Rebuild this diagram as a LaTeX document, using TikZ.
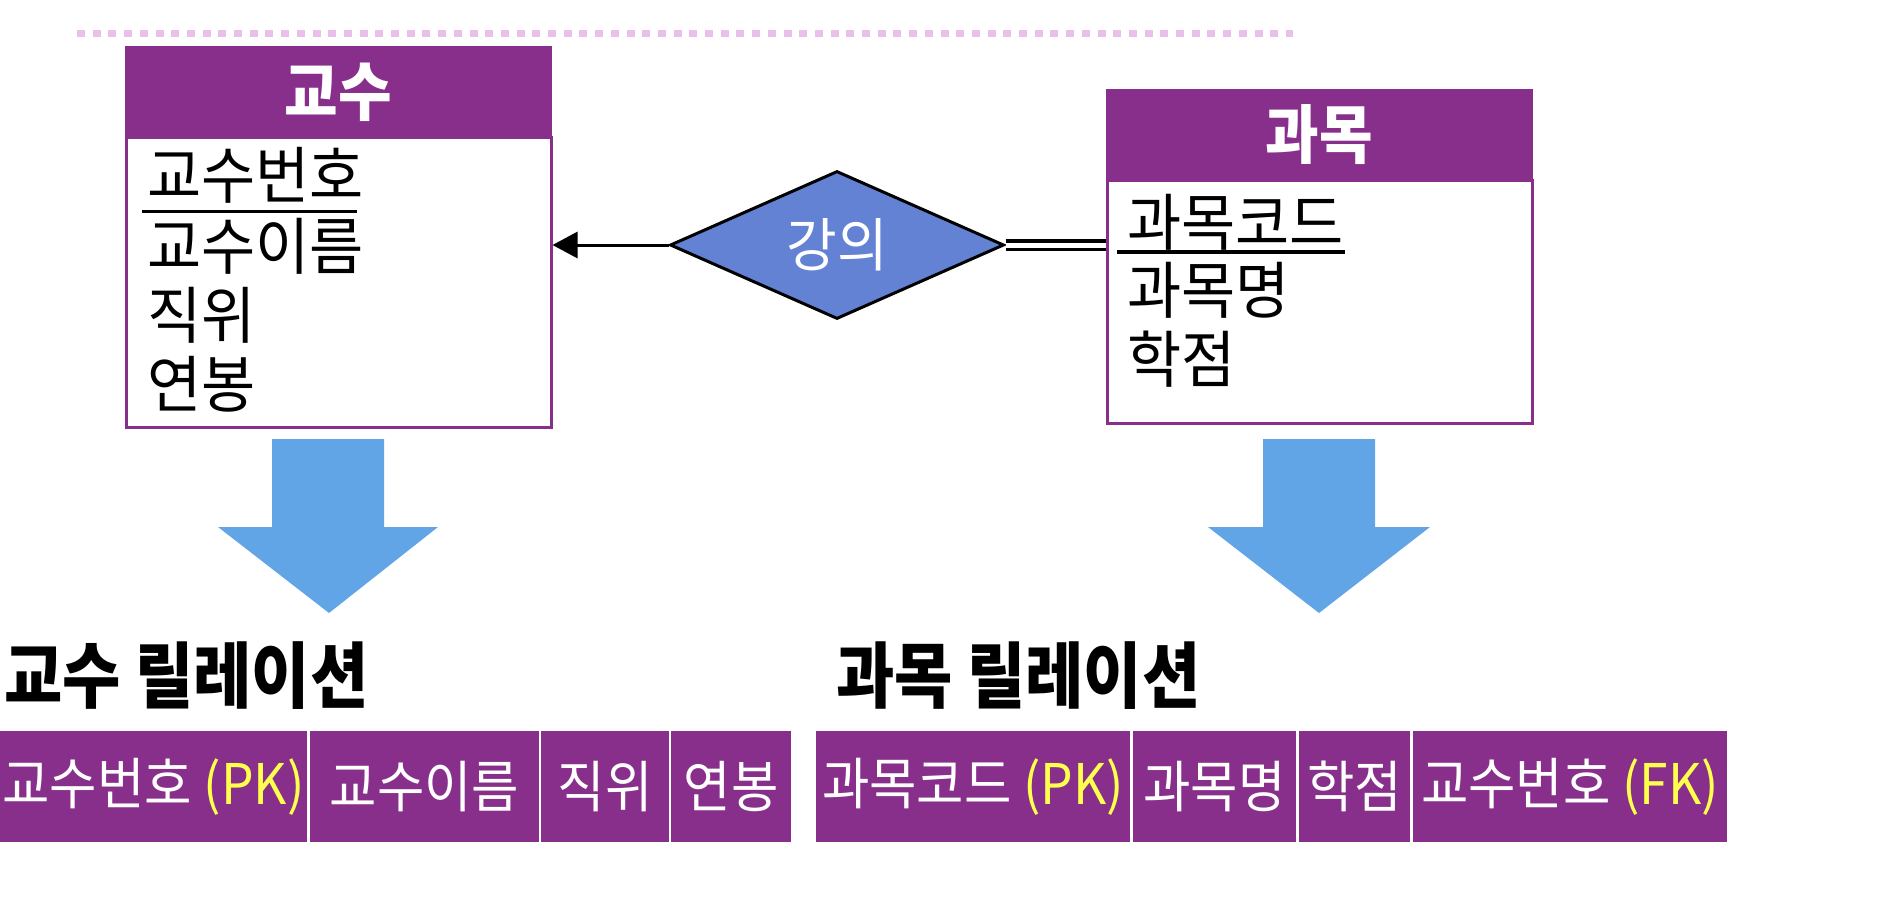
\documentclass[tikz,border=0pt]{standalone}
\usepackage{fontspec}
\setmainfont{Noto Sans CJK KR}
\newfontfamily\fattr[FakeStretch=0.95]{Noto Sans CJK KR}
\newfontfamily\ftitle[FakeStretch=0.88]{Noto Sans CJK KR}
\newfontfamily\fcell[FakeStretch=0.92]{Noto Sans CJK KR}
\newfontfamily\fhead[FakeStretch=0.91]{Noto Sans CJK KR}
\usetikzlibrary{shapes.geometric,arrows.meta,calc}
\definecolor{pur}{RGB}{135,47,139}
\definecolor{dia}{RGB}{99,130,212}
\definecolor{barrow}{RGB}{98,165,230}
\definecolor{dotc}{RGB}{234,192,234}
\definecolor{pkyel}{RGB}{255,255,77}
\begin{document}
\begin{tikzpicture}[x=1pt,y=-1pt,
  hdr/.style={fill=pur,draw=pur,line width=2pt,minimum width=425pt,minimum height=90pt,inner sep=0pt,anchor=north west,text=white,font=\fhead\fontsize{64}{68}\selectfont\bfseries},
  body/.style={fill=white,draw=pur,line width=2.5pt,minimum width=425pt,inner sep=0pt,anchor=north west},
  attr/.style={inner sep=0pt,anchor=west,text=black,font=\fattr\fontsize{62}{66}\selectfont},
  reltitle/.style={inner sep=0pt,anchor=west,text=black,font=\ftitle\fontsize{72}{76}\selectfont\bfseries},
  cell/.style={fill=pur,inner sep=0pt,minimum height=111pt,text=white,font=\fcell\fontsize{56}{60}\selectfont},
  bigarrow/.style={fill=barrow}]
\useasboundingbox (0,0) rectangle (1900,902);
% dotted top line
\coordinate (d0) at (77,33);
\coordinate (d1) at (1293,33);
\draw[dotc,line width=7pt,dash pattern=on 8pt off 7.7pt] (d0) -- (d1);
% left entity
\node[hdr] (kh) at (125,46) {교수};
\node[body,minimum height=290pt] (kb) at (125,136) {};
\node[attr] (k1) at (147,175.5) {교수번호};
\node[attr] (k2) at (147,246) {교수이름};
\node[attr] (k3) at (147,315) {직위};
\node[attr] (k4) at (147,384.5) {연봉};
\draw[line width=3pt] ($(k1.west)+(-5,35.5)$) -- ($(k1.east)+(-7,35.5)$);
% right entity
\node[hdr] (gh) at (1106,89) {과목};
\node[body,minimum height=243pt] (gb) at (1106,179) {};
\node[attr] (g1) at (1127,222) {과목코드};
\node[attr] (g2) at (1127,290) {과목명};
\node[attr] (g3) at (1127,359.5) {학점};
\draw[line width=4.5pt] ($(g1.west)+(-10,30)$) -- ($(g1.east)+(1,30)$);
% relationship
\node[diamond,aspect=2.25,fill=dia,draw=black,line width=3pt,minimum width=334pt,minimum height=148pt,inner sep=0pt,text=white,font=\fattr\fontsize{58}{62}\selectfont] (rel) at (837,245) {\raisebox{3pt}{강의}};
\draw[line width=3pt,-{Triangle[length=25pt,width=26pt]}] (rel.west) -- (rel.west -| kb.east);
\draw[line width=3.5pt,double,double distance=5pt] (rel.east) -- (rel.east -| gb.west);
% big arrows
\fill[bigarrow] (272,439) -- (384,439) -- (384,527) -- (438,527) -- (329,613) -- (218,527) -- (272,527) -- cycle;
\fill[bigarrow] (1263,439) -- (1375,439) -- (1375,527) -- (1430,527) -- (1319,613) -- (1208,527) -- (1263,527) -- cycle;
% relation titles
\node[reltitle] (t1) at (4,676) {교수 릴레이션};
\node[reltitle] (t2) at (836,676) {과목 릴레이션};
% relation rows
\node[cell,minimum width=307pt] (c1) at (153.5,786.5) {교수번호 \textcolor{pkyel}{(PK)}};
\node[cell,minimum width=229pt] (c2) at (424.5,786.5) {교수이름};
\node[cell,minimum width=128pt] (c3) at (605,786.5) {직위};
\node[cell,minimum width=120pt] (c4) at (731,786.5) {연봉};
\node[cell,minimum width=314pt] (e1) at (973,786.5) {과목코드 \textcolor{pkyel}{(PK)}};
\node[cell,minimum width=163pt] (e2) at (1214.5,786.5) {과목명};
\node[cell,minimum width=111pt] (e3) at (1354.5,786.5) {학점};
\node[cell,minimum width=314pt] (e4) at (1570,786.5) {교수번호 \textcolor{pkyel}{(FK)}};
\end{tikzpicture}
\end{document}
